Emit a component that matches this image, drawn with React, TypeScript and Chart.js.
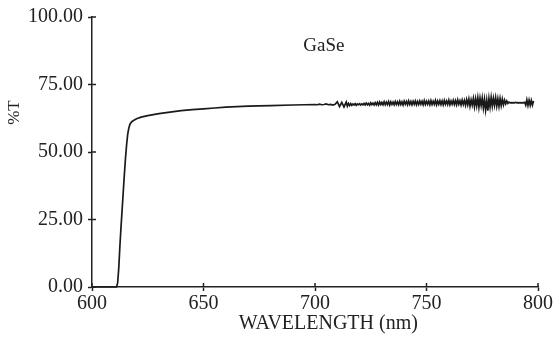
import React, { useEffect, useRef } from "react";
import { Chart, registerables } from "chart.js";

Chart.register(...registerables);

// Transmission spectrum of GaSe: wavelength (nm) and %T
// Absorption edge and smooth plateau
const edgeWavelength: number[] = [
  600, 602, 604, 606, 608, 610, 611,
  611.5, 612, 612.5, 613, 613.5, 614, 614.5, 615, 615.5, 616, 616.5, 617, 617.5, 618,
  619, 620, 622, 625, 630, 635, 640, 645, 650, 655, 660, 665, 670, 680, 690,
  700, 701, 702, 703, 704, 705, 706, 707, 708, 709, 710, 711, 712, 713,
];

const edgeTransmittance: number[] = [
  0, 0, 0, 0, 0, 0, 0,
  1.5, 7, 15, 22, 28.5, 35, 41.5, 47.5, 52.5, 56.5, 58.8, 60.2, 60.9, 61.3,
  61.9, 62.3, 62.9, 63.5, 64.2, 64.8, 65.3, 65.7, 66.0, 66.3, 66.6, 66.8, 67.0, 67.2, 67.4,
  67.6, 67.5, 67.7, 67.5, 67.6, 67.8, 67.5, 67.6, 67.4, 67.7,
];

// Noisy long-wavelength region, recorded every 0.5 nm
const noiseWavelength: number[] = [
  714, 714.5, 715, 715.5, 716, 716.5, 717, 717.5, 718, 718.5,
  719, 719.5, 720, 720.5, 721, 721.5, 722, 722.5, 723, 723.5,
  724, 724.5, 725, 725.5, 726, 726.5, 727, 727.5, 728, 728.5,
  729, 729.5, 730, 730.5, 731, 731.5, 732, 732.5, 733, 733.5,
  734, 734.5, 735, 735.5, 736, 736.5, 737, 737.5, 738, 738.5,
  739, 739.5, 740, 740.5, 741, 741.5, 742, 742.5, 743, 743.5,
  744, 744.5, 745, 745.5, 746, 746.5, 747, 747.5, 748, 748.5,
  749, 749.5, 750, 750.5, 751, 751.5, 752, 752.5, 753, 753.5,
  754, 754.5, 755, 755.5, 756, 756.5, 757, 757.5, 758, 758.5,
  759, 759.5, 760, 760.5, 761, 761.5, 762, 762.5, 763, 763.5,
  764, 764.5, 765, 765.5, 766, 766.5, 767, 767.5, 768, 768.5,
  769, 769.5, 770, 770.5, 771, 771.5, 772, 772.5, 773, 773.5,
  774, 774.5, 775, 775.5, 776, 776.5, 777, 777.5, 778, 778.5,
  779, 779.5, 780, 780.5, 781, 781.5, 782, 782.5, 783, 783.5,
  784, 784.5, 785, 785.5, 786, 786.5, 787, 787.5, 788, 788.5,
  789, 789.5, 790, 790.5, 791, 791.5, 792, 792.5, 793, 793.5,
  794, 794.5, 795, 795.5, 796, 796.5, 797, 797.5, 798, 798.5,
  799, 799.5, 800,
];

const noiseTransmittance: number[] = [
  68.6, 66.8, 68.4, 66.7, 68.5, 67.0, 68.0, 67.2, 67.9, 67.3,
  67.8, 67.4, 67.9, 67.3, 67.8, 67.5, 67.9, 67.4, 67.8, 67.5,
  68.0, 67.4, 68.1, 67.5, 68.0, 67.3, 68.2, 67.5, 68.1, 67.4,
  68.3, 67.5, 68.4, 67.4, 68.5, 67.6, 68.4, 67.5, 68.6, 67.5,
  68.5, 67.6, 68.7, 67.4, 68.6, 67.6, 68.5, 67.5, 68.7, 67.6,
  68.6, 67.5, 68.8, 67.6, 68.6, 67.4, 68.8, 67.7, 68.7, 67.5,
  68.9, 67.6, 68.7, 67.5, 68.8, 67.7, 68.9, 67.5, 68.7, 67.6,
  68.9, 67.7, 68.8, 67.5, 69.0, 67.6, 68.8, 67.7, 68.9, 67.5,
  69.0, 67.6, 68.8, 67.7, 69.1, 67.5, 68.9, 67.7, 69.0, 67.6,
  68.9, 67.5, 69.1, 67.7, 68.9, 67.6, 69.2, 67.5, 68.9, 67.7,
  69.1, 67.6, 69.0, 67.5, 69.3, 67.7, 69.0, 67.4, 69.2, 67.6,
  69.1, 67.3, 69.4, 67.5, 69.6, 67.0, 69.3, 67.4, 69.8, 66.8,
  69.7, 67.1, 70.1, 66.6, 69.9, 67.2, 70.0, 66.3, 69.5, 65.6,
  69.2, 65.3, 69.8, 66.7, 70.2, 67.0, 69.9, 67.3, 70.1, 67.0,
  69.7, 66.9, 69.8, 67.2, 69.6, 67.5, 69.2, 67.8, 68.9, 68.0,
  68.5, 68.2, 68.3, 68.2, 68.3, 68.2, 68.4, 68.2, 68.3, 68.2,
  68.3, 68.2, 68.3, 68.2, 68.4, 67.3, 69.3, 67.2, 69.2, 67.3,
  69.1, 67.4, 68.9,
];

const xTicks: number[] = [600, 650, 700, 750, 800];
const yTicks: number[] = [0, 25, 50, 75, 100];

const sampleName = "GaSe";
const xAxisTitle = "WAVELENGTH (nm)";
const yAxisTitle = "%T";

const FONT = '"Liberation Serif", "Times New Roman", serif';
const INK = "#222222";

// Draws inward halves of tick marks plus the free-standing labels
const decorPlugin = {
  id: "decor",
  afterDraw(chart: any) {
    const { ctx, chartArea, scales } = chart;
    const xs = scales.x;
    const ys = scales.y;
    ctx.save();
    ctx.strokeStyle = INK;
    ctx.lineWidth = 1.5;
    ctx.beginPath();
    for (const v of xTicks) {
      const px = xs.getPixelForValue(v);
      ctx.moveTo(px, chartArea.bottom);
      ctx.lineTo(px, chartArea.bottom - 4);
    }
    for (const v of yTicks) {
      const py = ys.getPixelForValue(v);
      ctx.moveTo(chartArea.left, py);
      ctx.lineTo(chartArea.left + 4, py);
    }
    ctx.stroke();

    ctx.fillStyle = INK;
    ctx.textAlign = "center";
    ctx.textBaseline = "middle";

    ctx.font = `19px ${FONT}`;
    ctx.fillText(sampleName, xs.getPixelForValue(704), ys.getPixelForValue(89.3));

    ctx.font = `20px ${FONT}`;
    ctx.fillText(xAxisTitle, xs.getPixelForValue(706), chartArea.bottom + 37);

    ctx.save();
    ctx.translate(15, ys.getPixelForValue(64.6));
    ctx.rotate(-Math.PI / 2);
    ctx.font = `17px ${FONT}`;
    ctx.fillText(yAxisTitle, 0, 0);
    ctx.restore();

    ctx.restore();
  },
};

export default function App() {
  const canvasRef = useRef<HTMLCanvasElement | null>(null);

  useEffect(() => {
    if (!canvasRef.current) return;
    const wavelength = [...edgeWavelength, ...noiseWavelength];
    const transmittance = [...edgeTransmittance, ...noiseTransmittance];
    const points = wavelength.map((w, i) => ({ x: w, y: transmittance[i] }));
    const chart = new Chart(canvasRef.current, {
      type: "line",
      data: {
        datasets: [
          {
            data: points,
            borderColor: "#1a1a1a",
            borderWidth: 1.7,
            pointRadius: 0,
            tension: 0,
            fill: false,
            clip: false as any,
          },
        ],
      },
      options: {
        animation: false,
        responsive: false,
        layout: { padding: { top: 15, right: 17, left: 0, bottom: 0 } },
        plugins: {
          legend: { display: false },
          tooltip: { enabled: false },
        },
        scales: {
          x: {
            type: "linear",
            min: 600,
            max: 800,
            afterFit: (s: any) => {
              s.height = 53;
            },
            afterBuildTicks: (s: any) => {
              s.ticks = xTicks.map((v) => ({ value: v }));
            },
            border: { display: true, color: INK, width: 1.5 },
            grid: {
              display: true,
              drawOnChartArea: false,
              drawTicks: true,
              tickLength: 4,
              tickWidth: 1.5,
              tickColor: INK,
            },
            ticks: {
              color: INK,
              padding: 1,
              maxRotation: 0,
              font: { family: FONT, size: 20 },
              callback: (v: any) => String(v),
            },
          },
          y: {
            type: "linear",
            min: 0,
            max: 100,
            afterFit: (s: any) => {
              s.width = 92;
            },
            afterBuildTicks: (s: any) => {
              s.ticks = yTicks.map((v) => ({ value: v }));
            },
            border: { display: true, color: INK, width: 1.5 },
            grid: {
              display: true,
              drawOnChartArea: false,
              drawTicks: true,
              tickLength: 4,
              tickWidth: 1.5,
              tickColor: INK,
            },
            ticks: {
              color: INK,
              padding: 5,
              font: { family: FONT, size: 20 },
              callback: (v: any) => Number(v).toFixed(2),
            },
          },
        },
      },
      plugins: [decorPlugin],
    });
    return () => chart.destroy();
  }, []);

  return (
    <div style={{ position: "absolute", left: 0, top: 0, width: 555, height: 340, background: "#fff" }}>
      <canvas ref={canvasRef} width={555} height={340} />
    </div>
  );
}
